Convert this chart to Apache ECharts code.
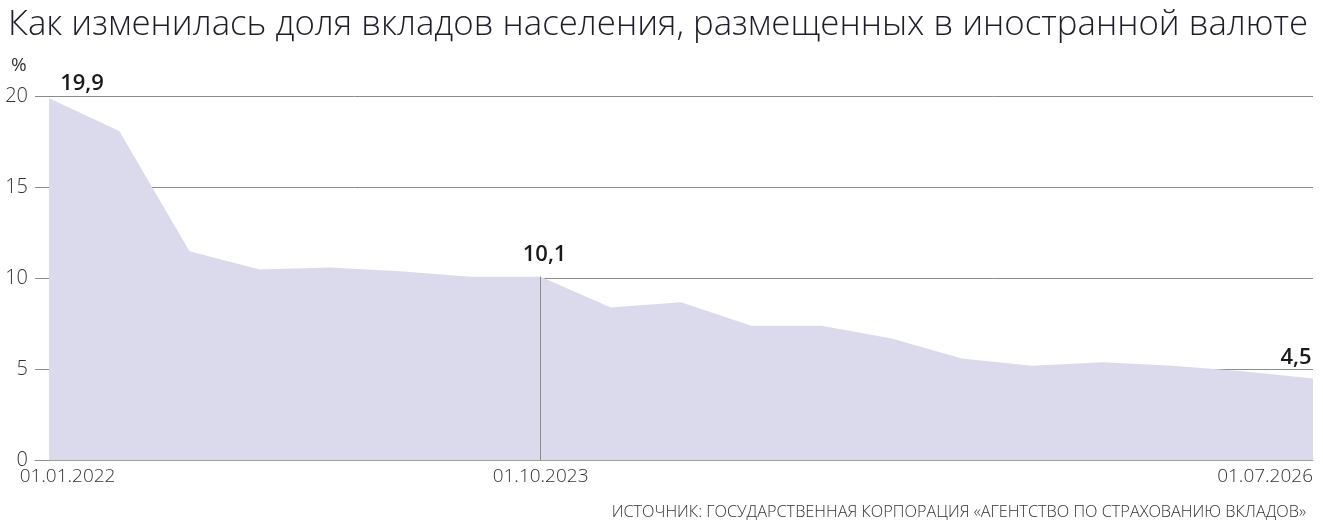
<!DOCTYPE html>
<html>
<head>
<meta charset="utf-8">
<script src="https://cdn.jsdelivr.net/npm/echarts@6/dist/echarts.min.js"></script>
<style>
html,body{margin:0;padding:0;background:#fff;}
#chart{width:1323px;height:528px;}
</style>
</head>
<body>
<div id="chart"></div>
<script>
// ---- data ----
const dates = ['01.01.2022','01.04.2022','01.07.2022','01.10.2022','01.01.2023','01.04.2023','01.07.2023','01.10.2023',
  '01.01.2024','01.04.2024','01.07.2024','01.10.2024','01.01.2025','01.04.2025','01.07.2025','01.10.2025',
  '01.01.2026','01.04.2026','01.07.2026'];
const shares = [19.9, 18.1, 11.5, 10.5, 10.6, 10.4, 10.1, 10.1, 8.4, 8.7, 7.4, 7.4, 6.7, 5.6, 5.2, 5.4, 5.2, 4.9, 4.5];
const shownDateIdx = [0, 7, 18];
const labelledIdx = [0, 7, 18];
const yTicks = [0, 5, 10, 15, 20];
const titleText = 'Как изменилась доля вкладов населения, размещенных в иностранной валюте';
const unitText = '%';
const sourceText = 'ИСТОЧНИК: ГОСУДАРСТВЕННАЯ КОРПОРАЦИЯ «АГЕНТСТВО ПО СТРАХОВАНИЮ ВКЛАДОВ»';

// ---- styling ----
const FONT = '"Open Sans", "Noto Sans", sans-serif';
const labelStyles = {
  0:  {offset: [33, 0], distance: 4},
  7:  {offset: [4, 0], distance: 11},
  18: {offset: [-17, 0], distance: 10}
};
const fmt = v => String(v).replace('.', ',');

const seriesData = shares.map((v, i) => {
  const item = {value: [i, v]};
  if (labelledIdx.includes(i)) {
    const s = labelStyles[i];
    item.label = {show: true, position: 'top', offset: s.offset, distance: s.distance};
  }
  return item;
});

const chart = echarts.init(document.getElementById('chart'), null, {renderer: 'canvas'});
chart.setOption({
  animation: false,
  backgroundColor: '#ffffff',
  title: [
    {text: titleText, left: 3, top: 3,
     textStyle: {fontFamily: FONT, fontWeight: 300, fontSize: 34.8, color: '#1e1e2a'}},
    {text: unitText, left: 6, top: 51,
     textStyle: {fontFamily: FONT, fontWeight: 400, fontSize: 19, color: '#333'}},
    {text: sourceText, right: 12, top: 499,
     textStyle: {fontFamily: FONT, fontWeight: 300, fontSize: 16.3, color: '#333'}}
  ],
  grid: {left: 35, right: 10, top: 96.5, bottom: 67.5, containLabel: false},
  xAxis: {
    type: 'value', min: -0.2, max: dates.length - 1,
    axisLine: {show: true, lineStyle: {color: '#8c8c8c', width: 1}},
    axisTick: {show: false},
    splitLine: {show: false},
    axisLabel: {
      customValues: shownDateIdx,
      margin: 7,
      fontFamily: FONT, fontWeight: 300, fontSize: 19, color: '#333',
      alignMaxLabel: 'right',
      formatter: v => v === 0 ? '{first|' + dates[v] + '}' : (v === dates.length - 1 ? '{last|' + dates[v] + '}' : dates[v]),
      rich: {
        first: {fontFamily: FONT, fontWeight: 300, fontSize: 19, color: '#333', padding: [0, 0, 0, 37]},
        last: {fontFamily: FONT, fontWeight: 300, fontSize: 19, color: '#333', align: 'right'}
      }
    }
  },
  yAxis: {
    type: 'value', min: yTicks[0], max: yTicks[yTicks.length - 1], interval: 5,
    axisLine: {show: false}, axisTick: {show: false},
    splitLine: {show: true, lineStyle: {color: '#8c8c8c', width: 1}},
    axisLabel: {margin: 7, fontFamily: FONT, fontWeight: 300, fontSize: 20, color: '#333'}
  },
  series: [{
    type: 'line',
    data: seriesData,
    symbol: 'circle', symbolSize: 0, showSymbol: true,
    lineStyle: {width: 0},
    areaStyle: {color: '#dbdaec', opacity: 1},
    label: {show: false, formatter: p => fmt(p.value[1]),
      fontFamily: FONT, fontWeight: 600, fontSize: 22, color: '#1a1a1a'},
    emphasis: {disabled: true},
    silent: true,
    z: 1,
    markLine: {
      silent: true, symbol: 'none', label: {show: false},
      lineStyle: {color: '#8c8c8c', width: 1, type: 'solid'},
      data: [[{coord: [7, 0]}, {coord: [7, shares[7]]}]]
    }
  }]
});
</script>
</body>
</html>
